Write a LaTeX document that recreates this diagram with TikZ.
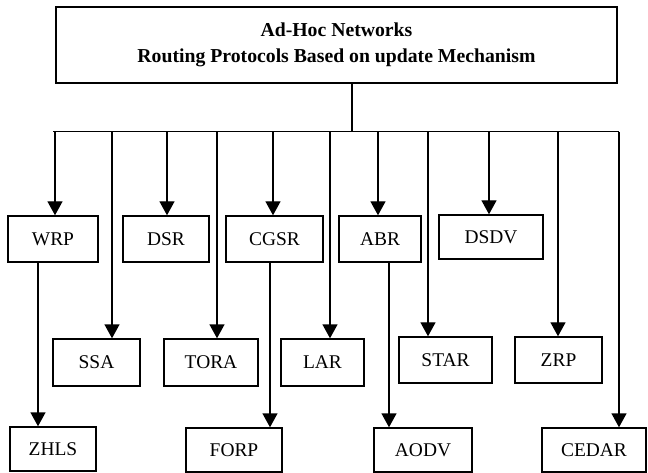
\documentclass[tikz,border=0pt]{standalone}
\usepackage{fontspec}
\setmainfont{Liberation Serif}
\usetikzlibrary{arrows.meta}
\begin{document}
\begin{tikzpicture}[x=1bp, y=-1bp, line width=1.4bp,
  proto/.style={draw, minimum height=46bp, inner sep=0pt, font=\fontsize{19.5}{25}\selectfont},
  feed/.style={-{Triangle[length=14bp,width=15bp]}},
  bus/.style={line width=1bp}]
  \useasboundingbox (0,0) rectangle (648,473);
  % heading
  \node[draw, minimum width=561bp, minimum height=76bp, align=center,
    font=\fontsize{19.8}{26}\selectfont\bfseries] (head) at (336.5,45)
    {Ad-Hoc Networks\\Routing Protocols Based on update Mechanism};
  % first row
  \node[proto, minimum width=90bp] (wrp) at (53,239) {WRP};
  \node[proto, minimum width=86bp] (dsr) at (166,239) {DSR};
  \node[proto, minimum width=97bp] (cgsr) at (274.5,239) {CGSR};
  \node[proto, minimum width=82bp] (abr) at (380,239) {ABR};
  \node[proto, minimum width=104bp, minimum height=44bp] (dsdv) at (491,237) {DSDV};
  % second row
  \node[proto, minimum width=87bp, minimum height=47bp] (ssa) at (96.5,362.5) {SSA};
  \node[proto, minimum width=94bp, minimum height=47bp] (tora) at (211,362.5) {TORA};
  \node[proto, minimum width=83bp, minimum height=47bp] (lar) at (322.5,362.5) {LAR};
  \node[proto, minimum width=93bp] (star) at (445.5,360) {STAR};
  \node[proto, minimum width=87bp] (zrp) at (558.5,360) {ZRP};
  % third row
  \node[proto, minimum width=86bp, minimum height=44bp] (zhls) at (53,449) {ZHLS};
  \node[proto, minimum width=96bp, minimum height=44bp] (forp) at (234,450) {FORP};
  \node[proto, minimum width=98bp, minimum height=44bp] (aodv) at (423,450) {AODV};
  \node[proto, minimum width=104bp, minimum height=44bp] (cedar) at (594,450) {CEDAR};
  % bus and drops
  \foreach \x/\n in {55/wrp,167/dsr,273/cgsr,378/abr,489/dsdv,112/ssa,217/tora,330/lar,428/star,558/zrp,619/cedar}{
    \coordinate (d\n) at (\x,132);
    \draw[feed] (d\n) -- (d\n |- \n.north);
  }
  \draw[bus] ([xshift=-2bp]dwrp) -- (dcedar);
  \coordinate (stem) at ([xshift=15.5bp]head.south);
  \draw (stem) -- (stem |- dwrp);
  % second level links
  \coordinate (wrpout) at ([xshift=-15bp]wrp.south);
  \coordinate (cgsrout) at ([xshift=-4.5bp]cgsr.south);
  \coordinate (abrout) at ([xshift=9bp]abr.south);
  \draw[feed] (wrpout) -- (wrpout |- zhls.north);
  \draw[feed] (cgsrout) -- (cgsrout |- forp.north);
  \draw[feed] (abrout) -- (abrout |- aodv.north);
\end{tikzpicture}
\end{document}
